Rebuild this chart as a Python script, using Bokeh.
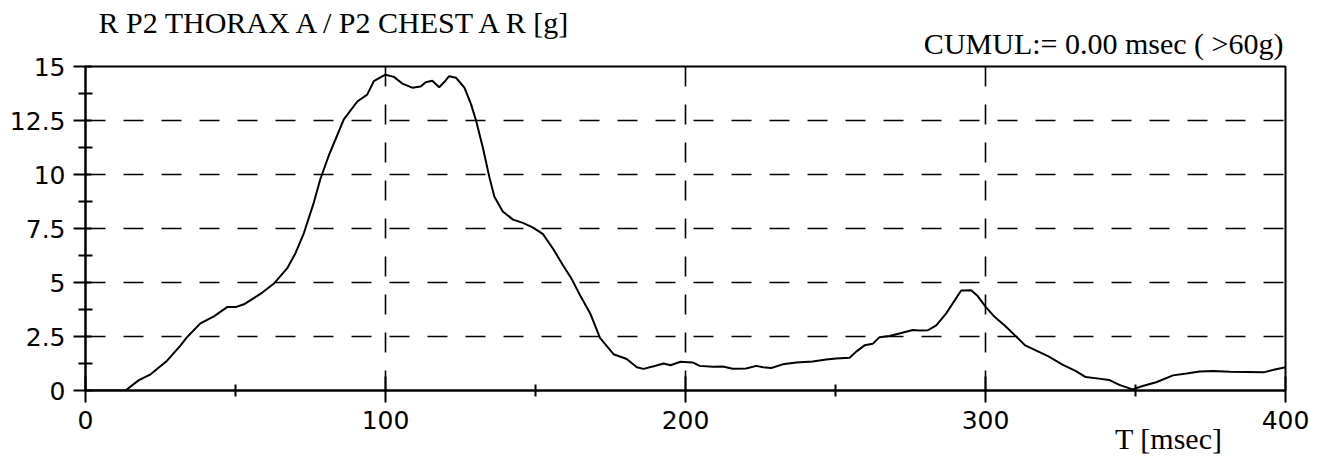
from bokeh.plotting import figure
from bokeh.models import Range1d, FixedTicker, Title
from bokeh.embed import file_html
from bokeh.resources import INLINE

# Time [msec]
t_ms = [0, 13.3, 17.8, 21.7, 27.2, 31.7, 33.9, 38.3, 42.8, 47.2, 50, 52.8, 58.3, 62.8, 67.2,
        70, 72.8, 76.1, 78.3, 81.1, 86.1, 90.6, 93.9, 96.1, 98.3,
        100, 102.8, 105.6, 108.9, 111.7, 113.4, 115.6, 117.9, 119.6, 121.2, 123.5, 126.3, 128.5,
        130.2, 132.4, 134.6, 136.3, 139.1, 142.5, 145.8, 149.2, 152.5, 155.9, 159.2, 162, 164.8,
        168.2, 171.5, 176, 180.4, 183.8, 186, 189.4, 192.7, 195, 198.3,
        202.4, 204.7, 209.1, 212.4, 215.8, 220.2, 223.6, 225.8, 228.6, 232.4, 236.9, 242.4, 246.9,
        250.2, 254.7, 256.9, 259.7, 262.4, 264.7, 268, 271.3, 275.8, 278, 280.8, 283.6, 286.9,
        289.1, 291.9, 295.2, 297.4, 300.2,
        303.1, 306.5, 309.9, 313.2, 316.6, 321, 325.5, 330, 333.4, 337.8, 341.2, 344.6, 349,
        352.4, 356.9, 362.5, 367, 371.4, 375.9, 381.5, 387.1, 392.7, 396.1, 400]

# Acceleration [g]
accel_g = [0, 0, 0.48, 0.75, 1.38, 2.09, 2.48, 3.11, 3.43, 3.86, 3.86, 3.99, 4.47, 4.95, 5.65,
           6.36, 7.29, 8.7, 9.79, 10.88, 12.55, 13.38, 13.7, 14.32, 14.5,
           14.62, 14.52, 14.21, 14.02, 14.07, 14.27, 14.34, 14.04, 14.28, 14.55, 14.48, 14.02, 13.26,
           12.49, 11.27, 9.89, 8.97, 8.29, 7.91, 7.76, 7.54, 7.24, 6.55, 5.79, 5.18, 4.42,
           3.58, 2.44, 1.68, 1.46, 1.08, 1.0, 1.12, 1.25, 1.17, 1.33,
           1.3, 1.14, 1.1, 1.11, 1.01, 1.02, 1.14, 1.08, 1.04, 1.21, 1.3, 1.34, 1.44,
           1.48, 1.52, 1.8, 2.09, 2.16, 2.47, 2.52, 2.64, 2.8, 2.78, 2.79, 3.02, 3.57,
           4.04, 4.63, 4.64, 4.37, 3.85,
           3.4, 3.0, 2.54, 2.09, 1.87, 1.58, 1.21, 0.91, 0.62, 0.55, 0.49, 0.26, 0.05,
           0.21, 0.38, 0.7, 0.79, 0.88, 0.9, 0.87, 0.86, 0.84, 0.96, 1.08]

x_ticks = [0, 100, 200, 300, 400]
x_minor = [50, 150, 250, 350]
y_ticks = [0, 2.5, 5, 7.5, 10, 12.5, 15]
y_minor = [1.25, 3.75, 6.25, 8.75, 11.25, 13.75]
y_labels = {0: "0", 2.5: "2.5", 5: "5", 7.5: "7.5", 10: "10", 12.5: "12.5", 15: "15"}

title_text = "R P2 THORAX A / P2 CHEST A R [g]"
cumul_text = "CUMUL:= 0.00 msec ( >60g)"
xlabel_text = "T [msec]"

SERIF = "Liberation Serif"

p = figure(width=1320, height=460, output_backend="svg", toolbar_location=None,
           x_range=Range1d(0, 400), y_range=Range1d(0, 15),
           min_border_left=85, min_border_right=35, min_border_top=66, min_border_bottom=70)
p.title = None
p.background_fill_color = "white"
p.border_fill_color = "white"
p.outline_line_color = "black"
p.outline_line_width = 2
p.outline_line_alpha = 1

p.line(t_ms, accel_g, line_color="black", line_width=2)

for ax in (p.xaxis[0], p.yaxis[0]):
    ax.axis_line_color = "black"
    ax.axis_line_width = 2
    ax.major_tick_line_color = "black"
    ax.major_tick_line_width = 2
    ax.minor_tick_line_color = "black"
    ax.minor_tick_line_width = 2
    ax.major_label_text_font = "DejaVu Sans"
    ax.major_label_text_font_size = "25px"
    ax.major_label_text_color = "black"

p.xaxis.ticker = FixedTicker(ticks=x_ticks, minor_ticks=x_minor)
p.xaxis.major_tick_in = 14
p.xaxis.major_tick_out = 12
p.xaxis.minor_tick_in = 6
p.xaxis.minor_tick_out = 6
p.xaxis.major_label_standoff = 8

p.yaxis.ticker = FixedTicker(ticks=y_ticks, minor_ticks=y_minor)
p.yaxis.major_label_overrides = y_labels
p.yaxis.major_tick_in = 6
p.yaxis.major_tick_out = 12
p.yaxis.minor_tick_in = 7
p.yaxis.minor_tick_out = 7
p.yaxis.major_label_standoff = 8

p.ygrid.ticker = FixedTicker(ticks=[2.5, 5, 7.5, 10, 12.5])
p.xgrid.ticker = FixedTicker(ticks=[100, 200, 300])
for g in (p.xgrid[0], p.ygrid[0]):
    g.grid_line_color = "black"
    g.grid_line_width = 1.6
    g.grid_line_dash = "20 18"

# titles above: first added sits closest to the frame
p.add_layout(Title(text=cumul_text, align="right", offset=2, standoff=10,
                   vertical_align="top",
                   text_font=SERIF, text_font_size="30px", text_font_style="normal",
                   text_color="black"), "above")
p.add_layout(Title(text=title_text, align="left", offset=13, standoff=-35,
                   vertical_align="bottom",
                   text_font=SERIF, text_font_size="30px", text_font_style="normal",
                   text_color="black"), "above")
p.add_layout(Title(text=xlabel_text, align="right", offset=63, standoff=-23,
                   text_font=SERIF, text_font_size="30px", text_font_style="normal",
                   text_color="black"), "below")

open("out.html", "w").write(file_html(p, INLINE))
